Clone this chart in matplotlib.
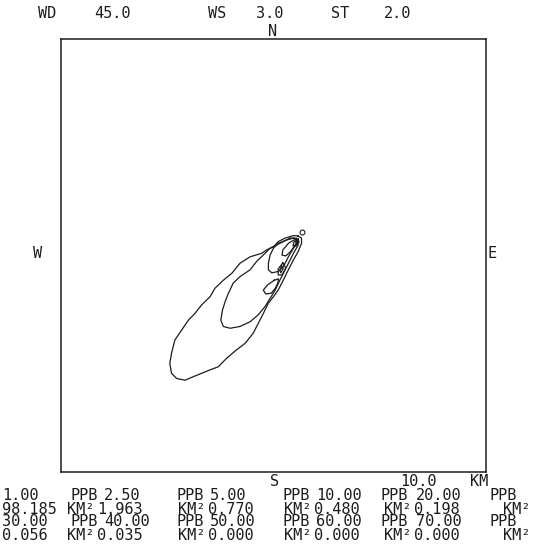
import matplotlib
matplotlib.use('Agg')
from matplotlib import pyplot as plt

# run header
wind_dir = 45.0
wind_speed = 3.0
stability = 2.0
scale_km = 10.0

# source position, km from lower left corner of the grid
source_x = [5.66]
source_y = [5.55]

# isopleth levels and enclosed areas from the table
levels = [1.00, 2.50, 5.00, 10.00, 20.00, 30.00, 40.00, 50.00, 60.00, 70.00]
areas = [98.185, 1.963, 0.770, 0.480, 0.198, 0.056, 0.035, 0.000, 0.000, 0.000]

# contour outlines (km)
c1_x = [5.58, 5.47, 5.27, 5.11, 5.00, 4.84, 4.72, 4.45, 4.21, 4.02, 3.82, 3.62, 3.51, 3.31, 3.15,
        3.00, 2.84, 2.68, 2.60, 2.56, 2.60, 2.72, 2.92, 3.11, 3.31, 3.51, 3.70, 3.90, 4.13, 4.33,
        4.52, 4.64, 4.76, 4.88, 5.00, 5.11, 5.23, 5.35, 5.47, 5.58, 5.66, 5.66, 5.58]
c1_y = [5.45, 5.46, 5.40, 5.32, 5.20, 5.13, 5.05, 4.97, 4.82, 4.59, 4.43, 4.24, 4.05, 3.86, 3.66,
        3.51, 3.28, 3.05, 2.74, 2.51, 2.28, 2.16, 2.12, 2.20, 2.28, 2.36, 2.43, 2.63, 2.82, 2.97,
        3.20, 3.43, 3.66, 3.90, 4.05, 4.20, 4.43, 4.67, 4.90, 5.09, 5.28, 5.40, 5.45]

c2_x = [5.39, 5.19, 4.92, 4.80, 4.60, 4.45, 4.21, 4.05, 3.94, 3.86, 3.80, 3.76, 3.82, 3.98, 4.21,
        4.45, 4.64, 4.80, 4.92, 5.04, 5.15, 5.31, 5.47, 5.58, 5.55, 5.39]
c2_y = [5.40, 5.30, 5.17, 5.05, 4.86, 4.67, 4.51, 4.36, 4.13, 3.93, 3.74, 3.51, 3.36, 3.32, 3.36,
        3.47, 3.63, 3.82, 4.01, 4.20, 4.43, 4.74, 5.05, 5.24, 5.40, 5.40]

c3a_x = [5.47, 5.31, 5.11, 5.00, 4.92, 4.88, 4.88, 4.96, 5.11, 5.23, 5.35, 5.47, 5.58, 5.47]
c3a_y = [5.40, 5.36, 5.28, 5.17, 5.01, 4.82, 4.67, 4.60, 4.63, 4.74, 4.97, 5.17, 5.32, 5.40]
c3b_x = [5.02, 4.86, 4.76, 4.82, 4.95, 5.04, 5.10, 5.12, 5.02]
c3b_y = [4.43, 4.32, 4.20, 4.11, 4.13, 4.24, 4.36, 4.46, 4.43]

c4a_x = [5.53, 5.36, 5.22, 5.20, 5.29, 5.41, 5.53, 5.53]
c4a_y = [5.38, 5.29, 5.13, 5.01, 4.99, 5.10, 5.27, 5.38]
c4b_x = [5.22, 5.11, 5.11, 5.20, 5.29, 5.22]
c4b_y = [4.83, 4.69, 4.55, 4.55, 4.71, 4.83]

c5a_x = [5.58, 5.48, 5.46, 5.53, 5.60, 5.58]
c5a_y = [5.38, 5.31, 5.22, 5.22, 5.31, 5.38]
c5b_x = [5.19, 5.15, 5.17, 5.23, 5.19]
c5b_y = [4.76, 4.66, 4.60, 4.70, 4.76]

c6_x = [5.57, 5.53, 5.56, 5.59, 5.57]
c6_y = [5.34, 5.29, 5.27, 5.32, 5.34]

outlines = [(c1_x, c1_y), (c2_x, c2_y), (c3a_x, c3a_y), (c3b_x, c3b_y), (c4a_x, c4a_y),
            (c4b_x, c4b_y), (c5a_x, c5a_y), (c5b_x, c5b_y), (c6_x, c6_y)]

W, H = 533, 549
ink = '#1c1c1c'
mono = 'DejaVu Sans Mono'
fs = 11

fig = plt.figure(figsize=(W / 100, H / 100), dpi=100)
fig.patch.set_facecolor('white')

# plot box in pixels: left 61, top 39, right 486, bottom 472
ax = fig.add_axes([61 / W, (H - 472) / H, 425 / W, 433 / H])
ax.set_xlim(0, scale_km)
ax.set_ylim(0, scale_km)
ax.set_xticks([])
ax.set_yticks([])
for sp in ax.spines.values():
    sp.set_color(ink)
    sp.set_linewidth(1.1)

for xs, ys in outlines:
    ax.plot(xs, ys, color=ink, lw=0.9)
ax.plot(source_x, source_y, 'o', ms=3.5, mfc='white', mec=ink, mew=0.8)


def put(x, y, s, ha='left'):
    fig.text(x / W, 1 - y / H, s, ha=ha, va='center', family=mono, fontsize=fs, color=ink)


# header line
put(38, 14, 'WD')
put(94, 14, '%.1f' % wind_dir)
put(208, 14, 'WS')
put(256, 14, '%.1f' % wind_speed)
put(331, 14, 'ST')
put(384, 14, '%.1f' % stability)

# compass points
put(273, 31, 'N', ha='center')
put(38, 253, 'W', ha='center')
put(492, 253, 'E', ha='center')
put(275, 482, 'S', ha='center')
put(400, 482, '%.1f' % scale_km)
put(470, 482, 'KM')

# level / area table, two blocks of five
val_x = [2, 104, 210, 316, 416]
ppb_x = [71, 177, 282, 381, 490]
area_x = [2, 97, 208, 314, 414]
km_x = [67, 178, 284, 384, 503]
row_y = [496, 509, 522, 535]

for block in range(2):
    for k in range(5):
        i = block * 5 + k
        put(val_x[k], row_y[2 * block], '%.2f' % levels[i])
        put(ppb_x[k], row_y[2 * block], 'PPB')
        put(area_x[k], row_y[2 * block + 1], '%.3f' % areas[i])
        put(km_x[k], row_y[2 * block + 1], 'KM\u00b2')

fig.savefig('out.png', dpi=100)
